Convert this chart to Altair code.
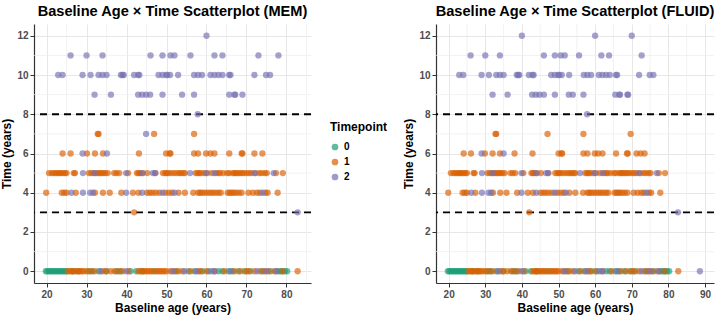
import altair as alt
import pandas as pd

# ---- categories and colours ----
TIMEPOINTS = ["0", "1", "2"]
TP_COLORS = ["#1b9e77", "#d95f02", "#7570b3"]

# ---- baseline ages per (time, timepoint) row ----
# time 0 (shared by both outcomes)
ages_t0_tp0 = [19.8, 20.2, 20.6, 21.0, 21.4, 21.8, 22.2, 22.6, 23.0, 23.4, 23.8, 24.2,
               24.6, 25.0, 26.5, 28.0, 30.5, 31.5, 33.0, 35.0, 37.5, 38.5, 41.0, 42.4,
               44.0, 47.0, 52.5, 55.5, 57.0, 59.0, 60.5, 63.0, 64.0, 65.5, 66.5, 68.0,
               69.5, 71.0, 74.0, 76.0, 77.8, 78.4, 79.0, 79.6, 80.2]
ages_t0_tp1 = [25.3, 25.8, 26.3, 26.8, 27.3, 27.8, 28.3, 28.8, 29.3, 30.0, 31.0, 32.0,
               34.0, 34.8, 36.0, 37.0, 38.0, 39.0, 40.5, 43.0, 43.5, 44.0, 44.5, 45.0,
               45.5, 46.0, 46.5, 47.5, 48.0, 48.5, 49.0, 49.5, 50.0, 51.0, 52.0, 53.0,
               54.0, 56.0, 58.0, 58.5, 60.0, 62.0, 64.5, 67.0, 68.5, 70.0, 70.5, 72.0,
               73.5, 74.5, 75.5, 77.0, 79.0]
ages_t0_tp2 = [33.5, 39.9, 51.5, 54.5, 57.5, 61.2, 62.0, 66.0, 72.7, 75.0, 77.4]
mem_t0_tp1_extra = [82.8]
fluid_t0_tp1_extra = [82.7]
fluid_t0_tp2_extra = [88.6]

# time 3
mem_t3_tp1 = [41.9]
mem_t3_tp2 = [82.8]
fluid_t3_tp1 = [42.0]
fluid_t3_tp2 = [82.6]

# time 4
ages_t4_tp1 = [19.9, 23.8, 24.4, 25.0, 27.3, 32.1, 34.1, 35.8, 38.7, 41.6, 43.0, 45.1,
               45.8, 46.5, 47.3, 48.2, 49.7, 50.6, 51.4, 53.0, 54.6, 56.7, 57.9, 58.4,
               58.9, 59.6, 60.3, 61.0, 61.6, 62.3, 63.0, 63.6, 65.3, 65.8, 66.3, 66.8,
               67.4, 68.1, 68.8, 70.5, 71.6, 72.6, 73.3, 74.7, 75.3, 77.8]
ages_t4_tp2 = [26.2, 29.1, 30.9, 31.6, 39.9, 43.9, 49.0, 52.0, 74.0]

# time 5
ages_t5_tp1 = [20.6, 21.3, 21.8, 22.3, 22.8, 23.2, 23.6, 24.1, 24.6, 25.0, 26.8, 27.1,
               30.6, 31.2, 31.8, 32.4, 32.9, 33.3, 33.8, 34.2, 34.7, 35.3, 36.9, 37.5,
               38.2, 40.4, 42.6, 43.0, 43.4, 44.1, 45.2, 47.2, 49.1, 49.7, 50.1, 50.5,
               51.2, 51.9, 52.6, 53.2, 53.6, 54.2, 54.6, 57.3, 57.8, 58.2, 58.6, 59.4,
               60.2, 61.3, 62.4, 63.0, 63.4, 64.2, 65.2, 65.7, 66.6, 67.0, 67.4, 67.9,
               68.4, 68.9, 69.4, 70.1, 70.7, 71.3, 72.3, 73.2, 73.8, 74.6, 75.1, 77.4, 79.1]
ages_t5_tp2 = [29.1, 32.0, 39.9, 43.9, 46.6, 47.2, 55.9, 59.9, 62.0, 72.0, 76.8]

# time 6
mem_t6_tp1 = [24.0, 26.0, 30.1, 32.1, 34.1, 43.1, 49.9, 50.8, 51.0, 56.9, 57.9, 59.9,
              61.0, 62.0, 65.7, 68.8, 69.0, 72.0, 74.0]
mem_t6_tp2 = [29.0, 35.1]
fluid_t6_tp1 = [24.1, 26.1, 29.9, 32.0, 34.0, 38.0, 42.9, 50.0, 50.8, 51.0, 56.8, 57.9,
                59.9, 60.8, 62.0, 65.7, 68.7, 68.9, 71.3, 72.4, 73.5]
fluid_t6_tp2 = [29.0, 35.0]

# time 7
mem_t7_tp1 = [32.8, 33.0, 46.9, 56.9]
mem_t7_tp2 = [44.9]
fluid_t7_tp1 = [32.8, 33.0, 47.0, 56.8, 69.7]

# time 8
ages_t8_tp2 = [57.8]

# time 9
mem_t9_tp2 = [32.0, 36.1, 42.9, 43.9, 44.9, 45.9, 49.0, 53.9, 56.9, 65.7, 67.0, 67.2, 69.0]
fluid_t9_tp2 = [32.0, 36.1, 42.8, 43.8, 44.8, 46.0, 49.0, 52.8, 53.9, 56.8, 65.5, 66.6,
                66.8, 68.8, 69.0]

# time 10
ages_t10_tp2 = [22.9, 24.0, 29.0, 31.0, 33.0, 34.0, 35.0, 38.6, 39.0, 39.3, 41.9, 42.9,
                43.2, 48.0, 49.0, 49.9, 50.2, 50.9, 52.9, 56.9, 57.9, 58.9, 61.0, 62.0,
                63.0, 64.0, 65.7, 66.0, 72.0, 74.9, 75.9]

# time 11
mem_t11_tp2 = [26.0, 30.0, 34.0, 46.0, 49.0, 51.0, 52.0, 56.0, 62.0, 64.0, 73.0, 78.0]
fluid_t11_tp2 = [26.0, 30.0, 34.0, 46.0, 49.0, 50.6, 51.7, 55.6, 61.7, 63.8, 72.7]

# time 12
mem_t12_tp2 = [60.0]
fluid_t12_tp2 = [40.0, 60.0, 70.0]

# ---- reference cut-offs, axis ticks ----
cutoff_times = [3, 8]
y_major = [0, 2, 4, 6, 8, 10, 12]
y_minor = [1, 3, 5, 7, 9, 11]
mem_x_major = [20, 30, 40, 50, 60, 70, 80]
fluid_x_major = [20, 30, 40, 50, 60, 70, 80, 90]
x_minor = [25, 35, 45, 55, 65, 75, 85]

FONT = "Liberation Sans"


def build_frame(rows):
    recs = []
    for time, tp, ages in rows:
        recs += [{"age": a, "time": time, "timepoint": tp} for a in ages]
    return pd.DataFrame(recs)


mem_df = build_frame([
    (0, "0", ages_t0_tp0),
    (0, "1", ages_t0_tp1 + mem_t0_tp1_extra),
    (3, "1", mem_t3_tp1),
    (4, "1", ages_t4_tp1),
    (5, "1", ages_t5_tp1),
    (6, "1", mem_t6_tp1),
    (7, "1", mem_t7_tp1),
    (0, "2", ages_t0_tp2),
    (3, "2", mem_t3_tp2),
    (4, "2", ages_t4_tp2),
    (5, "2", ages_t5_tp2),
    (6, "2", mem_t6_tp2),
    (7, "2", mem_t7_tp2),
    (8, "2", ages_t8_tp2),
    (9, "2", mem_t9_tp2),
    (10, "2", ages_t10_tp2),
    (11, "2", mem_t11_tp2),
    (12, "2", mem_t12_tp2),
])

fluid_df = build_frame([
    (0, "0", ages_t0_tp0),
    (0, "1", ages_t0_tp1 + fluid_t0_tp1_extra),
    (3, "1", fluid_t3_tp1),
    (4, "1", ages_t4_tp1),
    (5, "1", ages_t5_tp1),
    (6, "1", fluid_t6_tp1),
    (7, "1", fluid_t7_tp1),
    (0, "2", ages_t0_tp2 + fluid_t0_tp2_extra),
    (3, "2", fluid_t3_tp2),
    (4, "2", ages_t4_tp2),
    (5, "2", ages_t5_tp2),
    (6, "2", fluid_t6_tp2),
    (8, "2", ages_t8_tp2),
    (9, "2", fluid_t9_tp2),
    (10, "2", ages_t10_tp2),
    (11, "2", fluid_t11_tp2),
    (12, "2", fluid_t12_tp2),
])


def panel(df, title, x_domain, x_major, width, legend):
    x = alt.X("age:Q",
              scale=alt.Scale(domain=x_domain, nice=False, zero=False),
              axis=alt.Axis(values=x_major, title="Baseline age (years)"))
    y = alt.Y("time:Q",
              scale=alt.Scale(domain=[-0.6, 12.6], nice=False, zero=False),
              axis=alt.Axis(values=y_major, title="Time (years)"))

    minor_x = alt.Chart(pd.DataFrame({"age": x_minor})).mark_rule(
        color="#ececec", strokeWidth=0.7).encode(x=x)
    minor_y = alt.Chart(pd.DataFrame({"time": y_minor})).mark_rule(
        color="#ececec", strokeWidth=0.7).encode(y=y)
    cutoffs = alt.Chart(pd.DataFrame({"time": cutoff_times})).mark_rule(
        color="black", strokeWidth=1.8, strokeDash=[7, 5]).encode(y=y)
    points = alt.Chart(df).mark_circle(size=40, opacity=0.66).encode(
        x=x, y=y,
        color=alt.Color("timepoint:N",
                        scale=alt.Scale(domain=TIMEPOINTS, range=TP_COLORS),
                        legend=legend),
    )
    return alt.layer(minor_x, minor_y, cutoffs, points).properties(
        width=width, height=259,
        title=alt.Title(title, anchor="middle", offset=5),
    )


tp_legend = alt.Legend(
    title="Timepoint", orient="none", legendX=296, legendY=98,
    titleFontSize=12, titleFontWeight="bold", titleColor="black", titleFont=FONT,
    labelFontSize=10, labelFontWeight="bold", labelColor="black", labelFont=FONT,
    symbolType="circle", symbolSize=45, symbolOpacity=0.7, symbolStrokeWidth=0,
    rowPadding=5, titlePadding=8,
)

left = panel(mem_df, "Baseline Age × Time Scatterplot (MEM)",
             [16.85, 86.15], mem_x_major, 277, tp_legend)
right = panel(fluid_df, "Baseline Age × Time Scatterplot (FLUID)",
              [16.55, 92.45], fluid_x_major, 278, None)

chart = alt.hconcat(left, right, spacing=14).resolve_scale(
    color="independent"
).properties(
    padding={"left": 0, "right": 3, "top": 4, "bottom": 3},
).configure_view(
    stroke=None
).configure_axis(
    grid=True, gridColor="#e4e4e4", gridWidth=0.9,
    domainColor="#333333", domainWidth=1.2,
    tickColor="#333333", tickSize=4, tickWidth=1,
    labelFont=FONT, labelFontSize=10, labelColor="#4d4d4d", labelFontWeight="bold",
    labelPadding=2,
    titleFont=FONT, titleFontSize=12, titleFontWeight="bold", titleColor="black",
    titlePadding=3,
).configure_title(
    font=FONT, fontSize=14.6, fontWeight="bold", color="black",
)

chart.save("out.html", embed_options={"renderer": "svg", "actions": False})
